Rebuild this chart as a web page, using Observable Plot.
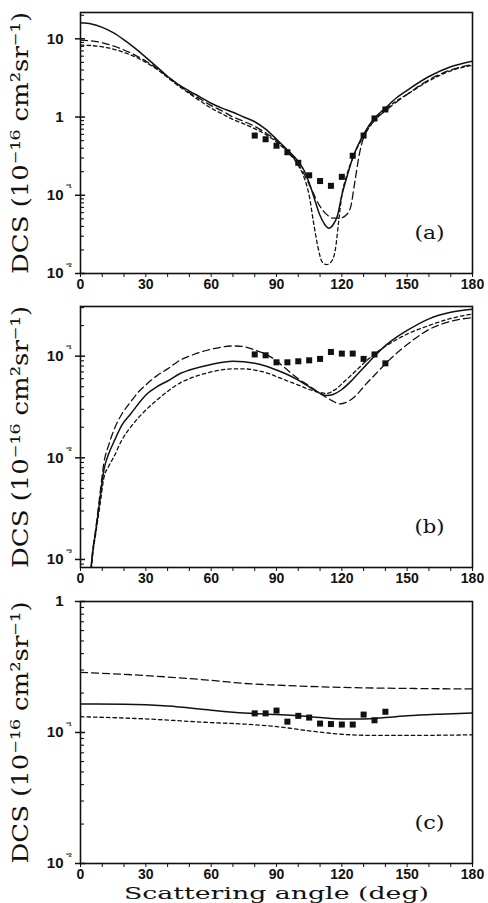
<!DOCTYPE html>
<html><head><meta charset="utf-8">
<script src="https://cdn.jsdelivr.net/npm/d3@7"></script>
<script src="https://cdn.jsdelivr.net/npm/@observablehq/plot@0.6"></script>
<style>
body{margin:0;background:#fff;width:488px;height:903px;overflow:hidden}
svg{display:block}
</style></head><body><div id="chart"></div>
<script>
// ---------- Panel (a) ----------
const angA_solid = [0,5,10,15,20,25,30,35,40,45,50,55,60,65,70,75,80,85,90,95,100,103,106,108,110,112,114,116,118,120,122,125,130,135,140,145,150,160,170,180];
const dcsA_solid = [16,15.5,14,12,9.7,7.6,5.8,4.4,3.3,2.6,2.15,1.8,1.5,1.3,1.15,1.0,0.87,0.7,0.52,0.38,0.27,0.2,0.12,0.08,0.055,0.043,0.038,0.042,0.055,0.1,0.16,0.3,0.6,0.97,1.3,1.75,2.2,3.3,4.4,5.2];
const angA_long = [0,5,10,15,20,25,30,35,40,45,50,55,60,65,70,75,80,85,90,95,100,103,106,110,113,116,119,122,124,126,128,130,132,135,140,145,150,160,170,180];
const dcsA_long = [9.6,9.4,8.9,8.1,7.2,6.2,5.2,4.2,3.3,2.6,2.05,1.7,1.4,1.2,1.0,0.88,0.76,0.63,0.5,0.37,0.25,0.18,0.12,0.072,0.057,0.051,0.051,0.056,0.07,0.15,0.33,0.55,0.7,0.9,1.2,1.55,1.95,3.0,4.0,4.7];
const angA_short = [0,5,10,15,20,25,30,35,40,45,50,55,60,65,70,75,80,85,90,95,100,103,105,107,109,111,113,115,117,118.5,120,122,125,130,135,140,145,150,160,170,180];
const dcsA_short = [8.3,8.2,7.9,7.4,6.7,5.9,5.0,4.1,3.2,2.5,2.0,1.6,1.3,1.1,0.93,0.82,0.71,0.6,0.48,0.36,0.24,0.16,0.1,0.045,0.022,0.014,0.013,0.014,0.02,0.045,0.1,0.17,0.3,0.57,0.92,1.25,1.6,1.95,2.9,3.9,4.6];
const angA_exp = [80,85,90,95,100,105,110,115,120,125,130,135,140];
const dcsA_exp = [0.58,0.52,0.43,0.355,0.26,0.18,0.152,0.132,0.172,0.32,0.58,0.96,1.25];
const yDomainA = [0.01, 21.7];
const yMajorA = [0.01, 0.1, 1, 10];

// ---------- Panel (b) ----------
const angB_solid = [4.8,5.4,7,9,10.7,13,15.3,19,23,30.6,35,40,46,50,60,70,75,80,85,90,95,100,105,110,113,116,120,125,130,135,140,145,150,160,170,180];
const dcsB_solid = [0.0008,0.0011,0.0019,0.004,0.0075,0.011,0.0143,0.021,0.027,0.0427,0.05,0.057,0.068,0.073,0.083,0.089,0.088,0.085,0.08,0.073,0.066,0.058,0.05,0.043,0.041,0.042,0.047,0.059,0.077,0.1,0.127,0.153,0.179,0.233,0.27,0.29];
const angB_long = [4.8,5.4,7,9,10.7,13,15.3,19,23,26,30.6,35,40,46,50,60,70,75,80,85,90,95,100,105,110,115,119,123,127,130,135,140,145,150,160,170,180];
const dcsB_long = [0.0008,0.0011,0.002,0.0045,0.0088,0.0135,0.0187,0.027,0.0354,0.043,0.0535,0.064,0.075,0.092,0.1,0.117,0.126,0.124,0.115,0.105,0.09,0.073,0.06,0.051,0.043,0.037,0.034,0.036,0.042,0.05,0.065,0.084,0.106,0.13,0.183,0.22,0.24];
const angB_short = [5,5.6,7,9,10.7,13,15.3,19,23,30.6,35,40,46,50,60,70,75,80,85,90,95,100,105,110,113,117,121,125,130,135,140,145,150,160,170,180];
const dcsB_short = [0.0008,0.0011,0.0018,0.0035,0.0063,0.0083,0.0102,0.015,0.02,0.0304,0.037,0.045,0.055,0.06,0.07,0.075,0.075,0.073,0.069,0.063,0.057,0.052,0.047,0.044,0.043,0.047,0.056,0.067,0.085,0.105,0.125,0.145,0.165,0.2,0.235,0.26];
const angB_exp = [80,85,90,95,100,105,110,115,120,125,130,135,140];
const dcsB_exp = [0.104,0.102,0.087,0.087,0.089,0.091,0.094,0.11,0.106,0.106,0.094,0.104,0.085];
const yDomainB = [0.000834, 0.308];
const yMajorB = [0.001, 0.01, 0.1];

// ---------- Panel (c) ----------
const angC_solid = [0,20,40,60,75,90,100,110,120,130,140,150,165,180];
const dcsC_solid = [0.165,0.164,0.159,0.148,0.141,0.137,0.134,0.13,0.127,0.127,0.13,0.134,0.138,0.141];
const angC_long = [0,30,60,75,90,120,150,180];
const dcsC_long = [0.288,0.272,0.25,0.237,0.23,0.221,0.217,0.215];
const angC_short = [0,30,60,75,90,105,120,135,150,180];
const dcsC_short = [0.132,0.127,0.119,0.116,0.111,0.103,0.097,0.095,0.095,0.096];
const angC_exp = [80,85,90,95,100,105,110,115,120,125,130,135,140];
const dcsC_exp = [0.14,0.14,0.147,0.121,0.134,0.13,0.117,0.116,0.115,0.115,0.137,0.124,0.144];
const yDomainC = [0.01, 1];
const yMajorC = [0.01, 0.1, 1];

// ---------- shared text ----------
const xTicks = d3.range(0, 181, 10);
const xLabelEvery = 30;
const yTitle = "DCS (10⁻¹⁶ cm²sr⁻¹)";
const xTitle = "Scattering angle (deg)";
const supMap = {"-":"⁻","1":"¹","2":"²","3":"³"};

const W = 488, ML = 80, MR = 16;
const INK = "#111";

function baseText(v){ const e = Math.round(Math.log10(v)); return e === 0 ? "1" : "10"; }
function expText(v){ const e = Math.round(Math.log10(v)); if (e === 0 || e === 1) return ""; return String(e).split("").map(c=>supMap[c]).join(""); }

function series(ang, val){ return ang.map((a,i)=>({a, v: val[i]})); }

function panel({solid, long, short, exp, domain, majors, height, marginTop, marginBottom, tag, withXTitle}) {
  const innerW = W - ML - MR;
  const minors = [];
  for (let k = -5; k <= 2; k++) for (let m = 2; m <= 9; m++) {
    const v = m * Math.pow(10, k);
    if (v > domain[0] * 1.0001 && v < domain[1]) minors.push(v);
  }
  const marks = [
    Plot.line(short, {x:"a", y:"v", stroke:INK, strokeWidth:1.3, strokeDasharray:"3.5,3", curve:"monotone-x", clip:true}),
    Plot.line(long, {x:"a", y:"v", stroke:INK, strokeWidth:1.3, strokeDasharray:"7,4", curve:"monotone-x", clip:true}),
    Plot.line(solid, {x:"a", y:"v", stroke:INK, strokeWidth:1.5, curve:"monotone-x", clip:true}),
    Plot.dot(exp, {x:"a", y:"v", symbol:"square", r:3.4, fill:INK, stroke:null}),
    Plot.frame({stroke:INK, strokeWidth:1.6}),
    Plot.axisX({ticks: xTicks, tickSize:4, tickPadding:2, fontSize:14, tickFormat: d => d % xLabelEvery === 0 ? String(d) : "", label:null, stroke:INK, fill:INK}),
    Plot.tickY(minors, {y: d=>d, insetRight: innerW - 4, stroke:INK, strokeWidth:1.1}),
    Plot.tickY(majors, {y: d=>d, insetLeft: -5, insetRight: innerW - 5, stroke:INK, strokeWidth:1.5}),
    Plot.text(majors, {y: d=>d, frameAnchor:"left", text: baseText, textAnchor:"end", dx:-17, fill:INK}),
    Plot.text(majors, {y: d=>d, frameAnchor:"left", text: expText, textAnchor:"start", dx:-15, dy:-7, fontSize:10, fill:INK}),
    Plot.text([tag], {frameAnchor:"bottom-right", dx:-43, dy:-35, textAnchor:"middle", fontFamily:"DejaVu Serif", fontWeight:"normal", fontSize:18, fill:INK}),
    Plot.text([yTitle], {frameAnchor:"left", rotate:-90, dx:-60, textAnchor:"middle", fontFamily:"DejaVu Serif", fontWeight:"normal", fontSize:23, fill:INK})
  ];
  if (withXTitle) marks.push(Plot.text([xTitle], {frameAnchor:"bottom", dy:35.5, lineAnchor:"bottom", textAnchor:"middle", fontFamily:"DejaVu Serif", fontWeight:"normal", fontSize:17, fill:INK}));
  return Plot.plot({
    width: W, height, marginLeft: ML, marginRight: MR, marginTop, marginBottom,
    style: {fontFamily: "Liberation Sans, Arial, sans-serif", fontSize: "15px", fontWeight: "bold", color: INK, background: "#fff"},
    x: {domain: [0, 180], axis: null},
    y: {type: "log", domain, axis: null},
    marks
  });
}

const root = document.getElementById("chart");
const cfgs = [
  {solid: series(angA_solid, dcsA_solid), long: series(angA_long, dcsA_long), short: series(angA_short, dcsA_short), exp: series(angA_exp, dcsA_exp), domain: yDomainA, majors: yMajorA, height: 295, marginTop: 12, marginBottom: 22, tag: "(a)"},
  {solid: series(angB_solid, dcsB_solid), long: series(angB_long, dcsB_long), short: series(angB_short, dcsB_short), exp: series(angB_exp, dcsB_exp), domain: yDomainB, majors: yMajorB, height: 295, marginTop: 11, marginBottom: 23, tag: "(b)"},
  {solid: series(angC_solid, dcsC_solid), long: series(angC_long, dcsC_long), short: series(angC_short, dcsC_short), exp: series(angC_exp, dcsC_exp), domain: yDomainC, majors: yMajorC, height: 313, marginTop: 11, marginBottom: 40, tag: "(c)", withXTitle: true}
];
const stretch = {[yTitle]: 262, [xTitle]: 305, "(a)": 30, "(b)": 30, "(c)": 30};
for (const c of cfgs) {
  const svg = panel(c);
  d3.select(svg).selectAll("text").each(function(){
    const L = stretch[this.textContent];
    if (L) d3.select(this).attr("textLength", L).attr("lengthAdjust", "spacingAndGlyphs");
  });
  root.appendChild(svg);
}
</script></body></html>
